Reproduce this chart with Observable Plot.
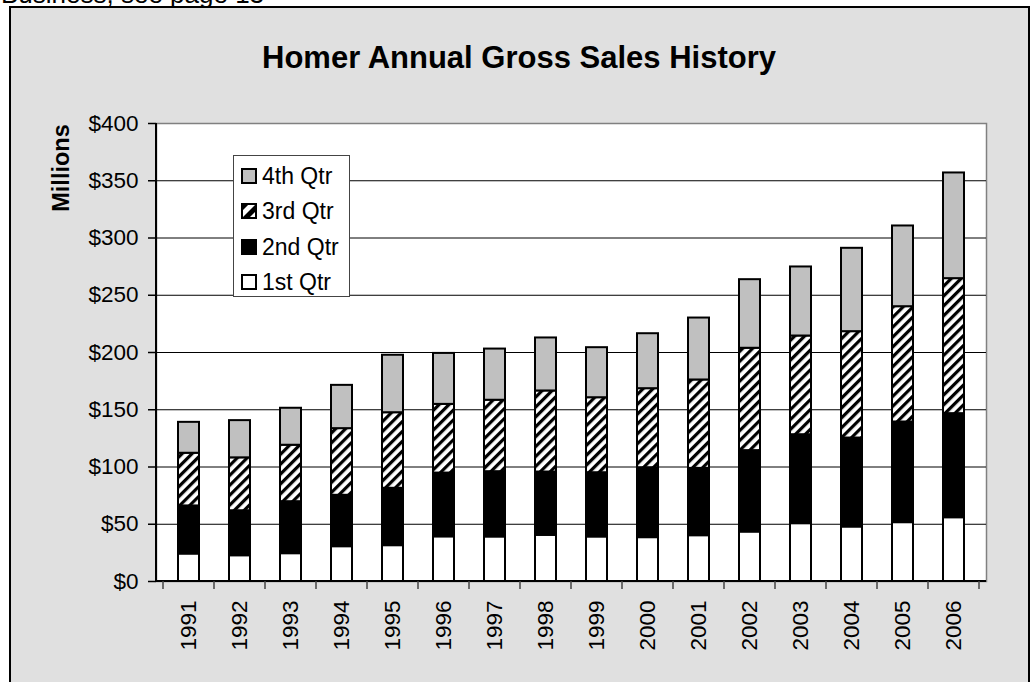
<!DOCTYPE html>
<html>
<head>
<meta charset="utf-8">
<script src="https://cdn.jsdelivr.net/npm/d3@7"></script>
<script src="https://cdn.jsdelivr.net/npm/@observablehq/plot@0.6"></script>
<style>
  html, body { margin: 0; padding: 0; background: #fff; }
  #page { position: relative; width: 1031px; height: 682px; overflow: hidden; font-family: "Liberation Sans", Arial, sans-serif; }
  #note { position: absolute; left: 1px; top: -19px; font-size: 26px; line-height: 26px; color: #000; white-space: nowrap; }
  #box { position: absolute; left: 9px; top: 6px; width: 1017px; height: 720px; background: #e0e0e0; border: 2px solid #000; }
  #title { position: absolute; left: 9px; width: 1020px; top: 40px; text-align: center; font-weight: bold; font-size: 31px; line-height: 36px; color: #000; }
  #ylabel { position: absolute; left: 61px; top: 168px; transform: translate(-50%, -50%) rotate(-90deg); font-weight: bold; font-size: 23.5px; white-space: nowrap; color: #000; }
  #chart { position: absolute; left: 0; top: 0; }
  #legend { position: absolute; left: 233px; top: 155px; width: 117px; height: 142px; background: #fff; border: 1px solid #444; box-sizing: border-box; }
  .row { position: absolute; left: 7px; height: 26px; display: flex; align-items: center; font-size: 23px; color: #000; white-space: nowrap; }
  .row svg { margin-right: 5px; }
</style>
</head>
<body>
<div id="page">
  <div id="note">Business, see page 13</div>
  <div id="box"></div>
  <div id="title">Homer Annual Gross Sales History</div>
  <div id="ylabel">Millions</div>
  <div id="chart"></div>
  <div id="legend"></div>
</div>
<script>
const years = ["1991","1992","1993","1994","1995","1996","1997","1998","1999","2000","2001","2002","2003","2004","2005","2006"];
const quarters = ["1st Qtr","2nd Qtr","3rd Qtr","4th Qtr"];
const q1 = [24, 22.5, 24.3, 30.4, 31.3, 39, 38.9, 40.3, 38.9, 38.3, 40, 43.2, 50.5, 47.6, 51.4, 55.7];
const q2 = [42, 39.3, 45.4, 44.9, 50.1, 55.7, 57, 55.3, 56.1, 61.1, 58.8, 71.1, 77.7, 77.7, 87.9, 90.9];
const q3 = [46, 46.2, 49.3, 58.2, 66, 60, 62.4, 70.8, 65.5, 69, 77.2, 89.4, 86.2, 92.9, 100.7, 117.9];
const q4 = [27, 32.5, 32.3, 37.8, 50.2, 44.5, 44.7, 46.3, 43.7, 48, 54.1, 59.9, 60.3, 72.8, 70.5, 92.3];
const yTicks = [0, 50, 100, 150, 200, 250, 300, 350, 400];
const fills = {"1st Qtr": "#ffffff", "2nd Qtr": "#000000", "3rd Qtr": "url(#hatch)", "4th Qtr": "#c0c0c0"};

const series = [q1, q2, q3, q4];
const data = [];
years.forEach((y, i) => quarters.forEach((q, j) => data.push({year: y, quarter: q, value: series[j][i]})));

function axisLines(index, scales, values, dim) {
  const g = d3.create("svg:g");
  const x = scales.x;
  const step = x(years[1]) - x(years[0]);
  const left = dim.marginLeft, bottom = dim.height - dim.marginBottom;
  g.append("line").attr("x1", left).attr("x2", dim.width - dim.marginRight)
    .attr("y1", bottom).attr("y2", bottom).attr("stroke", "#000").attr("stroke-width", 2);
  years.forEach((y) => {
    const cx = x(y) + x.bandwidth() / 2 - step / 2;
    g.append("line").attr("x1", cx).attr("x2", cx).attr("y1", bottom).attr("y2", bottom + 8).attr("stroke", "#444").attr("stroke-width", 1.5);
  });
  const ex = x(years[years.length - 1]) + x.bandwidth() / 2 + step / 2;
  g.append("line").attr("x1", ex).attr("x2", ex).attr("y1", bottom).attr("y2", bottom + 8).attr("stroke", "#444").attr("stroke-width", 1.5);
  g.append("line").attr("x1", left).attr("x2", left)
    .attr("y1", dim.marginTop).attr("y2", bottom + 1).attr("stroke", "#000").attr("stroke-width", 2);
  return g.node();
}

const chart = Plot.plot({
  width: 1031,
  height: 682,
  marginLeft: 156,
  marginRight: 45,
  marginTop: 123,
  marginBottom: 101,
  style: {background: "transparent", fontFamily: "'Liberation Sans', Arial, sans-serif", fontSize: "22px", color: "#000", overflow: "visible"},
  x: {domain: years, paddingInner: 0.58, paddingOuter: 0.29, label: null},
  y: {domain: [0, 400], label: null},
  color: {type: "identity"},
  marks: [
    Plot.frame({fill: "#fff", stroke: "#808080", strokeWidth: 1.5}),
    Plot.ruleY(yTicks.filter(d => d > 0 && d < 400), {stroke: "#000", strokeWidth: 1}),
    Plot.barY(data, {x: "year", y: "value", fill: d => fills[d.quarter], stroke: "#000", strokeWidth: 2, z: "quarter"}),
    Plot.axisY({ticks: yTicks, tickFormat: d => "$" + d, tickSize: 8, tickPadding: 10, stroke: "#000", strokeWidth: 1.5, fontSize: 22.5, label: null}),
    Plot.axisX({tickRotate: -90, tickSize: 0, tickPadding: 19, fontSize: 22.5, label: null}),
    axisLines
  ]
});

const defs = d3.select(chart).insert("defs", ":first-child");
const pat = defs.append("pattern").attr("id", "hatch").attr("patternUnits", "userSpaceOnUse")
  .attr("width", 7).attr("height", 7).attr("patternTransform", "rotate(45)");
pat.append("rect").attr("width", 7).attr("height", 7).attr("fill", "#fff");
pat.append("rect").attr("width", 3.2).attr("height", 7).attr("fill", "#000");

document.getElementById("chart").appendChild(chart);

const legend = d3.select("#legend");
const rowsTop = [7, 42, 78, 113];
quarters.slice().reverse().forEach((q, i) => {
  const row = legend.append("div").attr("class", "row").style("top", rowsTop[i] + "px");
  const sw = row.append("svg").attr("width", 16).attr("height", 16);
  if (q === "3rd Qtr") {
    sw.append("rect").attr("x", 1).attr("y", 1).attr("width", 14).attr("height", 14).attr("fill", "#fff");
    sw.append("path").attr("d", "M1,15 L15,1 L15,8 L8,15 Z").attr("fill", "#000");
    sw.append("path").attr("d", "M1,15 L1,8 L8,1 L1,1 Z").attr("fill", "#000");
    sw.append("rect").attr("x", 1).attr("y", 1).attr("width", 14).attr("height", 14).attr("fill", "none").attr("stroke", "#000").attr("stroke-width", 2);
  } else {
    sw.append("rect").attr("x", 1).attr("y", 1).attr("width", 14).attr("height", 14).attr("fill", fills[q]).attr("stroke", "#000").attr("stroke-width", 2);
  }
  row.append("span").text(q);
});
</script>
</body>
</html>
